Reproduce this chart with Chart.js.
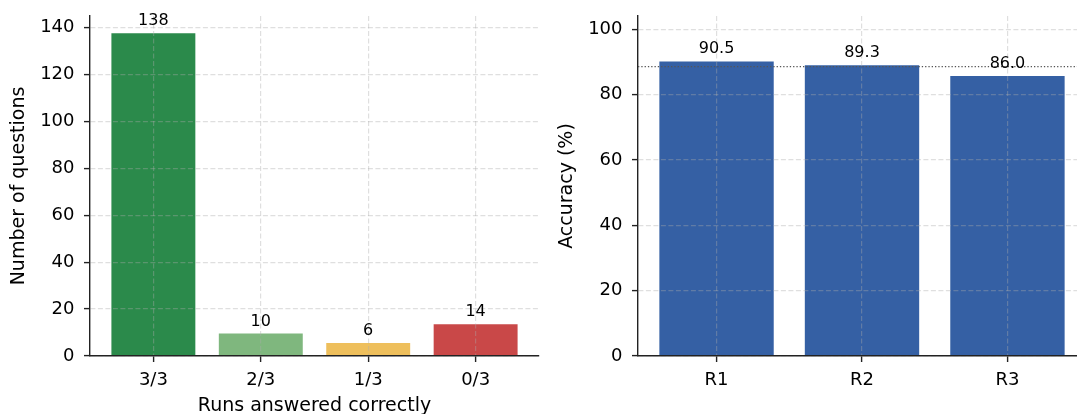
<!DOCTYPE html>
<html>
<head>
<meta charset="utf-8">
<script src="https://cdn.jsdelivr.net/npm/chart.js@4.4.0/dist/chart.umd.min.js"></script>
<style>
  html, body { margin: 0; padding: 0; background: #fff; overflow: hidden; width: 1077px; height: 414px; }
  #leftChart { position: absolute; left: 0; top: 0; }
  #rightChart { position: absolute; left: 540px; top: 0; }
</style>
</head>
<body>
<canvas id="leftChart" width="540" height="440"></canvas>
<canvas id="rightChart" width="560" height="440"></canvas>
<script>
// left panel: how many runs got each question right
const runCategories = ["3/3", "2/3", "1/3", "0/3"];
const questionCounts = [138, 10, 6, 14];
const runColors = ["#2b8a4b", "#7fb77e", "#eebf5c", "#c94848"];
const countTicks = [0, 20, 40, 60, 80, 100, 120, 140];

// right panel: accuracy per run
const runNames = ["R1", "R2", "R3"];
const runAccuracy = [90.5, 89.3, 86.0];
const accuracyTicks = [0, 20, 40, 60, 80, 100];
const meanAccuracy = 88.6;

const FONT = "'DejaVu Sans', sans-serif";
const AXIS = "#222";
const GRID = "rgba(170,170,170,0.38)";

Chart.defaults.font.family = FONT;
Chart.defaults.color = "#000";

// value labels + optional dotted reference line, drawn above the grid
const barLabels = {
  id: "barLabels",
  afterDraw(chart, args, opts) {
    const { ctx, chartArea } = chart;
    const yAxis = chart.scales.y;
    if (opts.refLine != null) {
      const py = yAxis.getPixelForValue(opts.refLine);
      ctx.save();
      ctx.strokeStyle = "#555";
      ctx.lineWidth = 1.2;
      ctx.setLineDash([1.3, 2]);
      ctx.beginPath();
      ctx.moveTo(chartArea.left, py);
      ctx.lineTo(chartArea.right, py);
      ctx.stroke();
      ctx.restore();
    }
    const meta = chart.getDatasetMeta(0);
    const values = chart.data.datasets[0].data;
    ctx.save();
    ctx.font = "16px " + FONT;
    ctx.fillStyle = "#000";
    ctx.textAlign = "center";
    ctx.textBaseline = "alphabetic";
    meta.data.forEach((bar, i) => {
      ctx.fillText(values[i].y.toFixed(opts.decimals), bar.x, bar.y - 7);
    });
    ctx.restore();
  }
};

function xScale(min, max, names, title) {
  return {
    type: "linear", min: min, max: max, offset: false,
    grid: { offset: false, z: 1, color: GRID, lineWidth: 1.2, tickColor: AXIS, tickLength: 6, tickWidth: 1.4 },
    border: { display: true, color: AXIS, width: 1.4, dash: [5, 2.5], z: 2 },
    ticks: { padding: 8, font: { size: 18 }, color: "#000", maxRotation: 0, autoSkip: false,
             callback: v => names[v] },
    title: { display: !!title, text: title || "", font: { size: 19 }, color: "#000", padding: { top: 0, bottom: 23 } },
    afterBuildTicks: s => { s.ticks = names.map((n, i) => ({ value: i })); },
    afterFit: s => { s.height = 84; s.paddingLeft = 0; s.paddingRight = 0; }
  };
}

function yScale(max, tickVals, width, title, titlePad) {
  return {
    type: "linear", min: 0, max: max,
    grid: { z: 1, color: GRID, lineWidth: 1.2, tickColor: AXIS, tickLength: 6, tickWidth: 1.4 },
    border: { display: true, color: AXIS, width: 1.4, dash: [5, 2.5], z: 2 },
    ticks: { padding: 9.5, font: { size: 18 }, color: "#000" },
    title: { display: true, text: title, font: { size: 19 }, color: "#000", padding: { top: titlePad, bottom: 0 } },
    afterBuildTicks: s => { s.ticks = tickVals.map(v => ({ value: v })); },
    afterFit: s => { s.width = width; s.paddingTop = 0; s.paddingBottom = 0; }
  };
}

new Chart(document.getElementById("leftChart"), {
  type: "bar",
  data: {
    datasets: [{
      data: runCategories.map((c, i) => ({ x: i, y: questionCounts[i] })),
      backgroundColor: runColors,
      borderColor: "rgba(255,255,255,0.45)",
      borderWidth: 1,
      barPercentage: 0.8,
      categoryPercentage: 1
    }]
  },
  options: {
    responsive: false,
    animation: false,
    layout: { padding: { top: 16, right: 1, left: 0, bottom: 0 } },
    plugins: { legend: { display: false }, tooltip: { enabled: false }, barLabels: { decimals: 0 } },
    scales: {
      x: xScale(-0.59, 3.59, runCategories, "Runs answered correctly"),
      y: yScale(144.9, countTicks, 90, "Number of questions", 8)
    }
  },
  plugins: [barLabels]
});

new Chart(document.getElementById("rightChart"), {
  type: "bar",
  data: {
    datasets: [{
      data: runNames.map((r, i) => ({ x: i, y: runAccuracy[i] })),
      backgroundColor: "#3560a4",
      borderColor: "rgba(255,255,255,0.45)",
      borderWidth: 1,
      barPercentage: 0.8,
      categoryPercentage: 1
    }]
  },
  options: {
    responsive: false,
    animation: false,
    layout: { padding: { top: 16, right: 14, left: 0, bottom: 0 } },
    plugins: { legend: { display: false }, tooltip: { enabled: false }, barLabels: { decimals: 1, refLine: meanAccuracy } },
    scales: {
      x: xScale(-0.54, 2.54, runNames, null),
      y: yScale(104.1, accuracyTicks, 98, "Accuracy (%)", 15.5)
    }
  },
  plugins: [barLabels]
});
</script>
</body>
</html>
